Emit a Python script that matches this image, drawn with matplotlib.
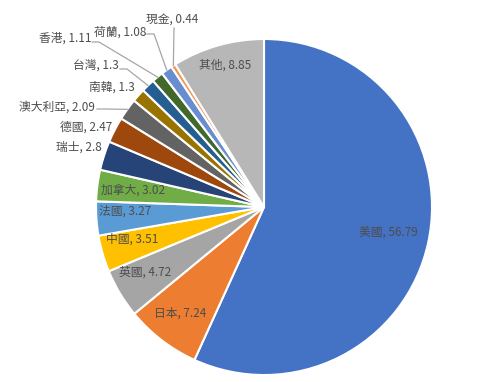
import matplotlib.pyplot as plt
import numpy as np

plt.rcParams['font.family'] = ['Noto Sans CJK TC', 'DejaVu Sans']

# data
countries = ["美國", "日本", "英國", "中國", "法國", "加拿大", "瑞士", "德國",
             "澳大利亞", "南韓", "台灣", "香港", "荷蘭", "現金", "其他"]
weights = [56.79, 7.24, 4.72, 3.51, 3.27, 3.02, 2.8, 2.47,
           2.09, 1.3, 1.3, 1.11, 1.08, 0.44, 8.85]

colors = ["#4472C4", "#ED7D31", "#A5A5A5", "#FFC000", "#5B9BD5", "#70AD47",
          "#264478", "#9E480E", "#636363", "#997300", "#255E91", "#43682B",
          "#698ED0", "#F1975A", "#B7B7B7"]

W, H = 500, 382
# label centres in pixel coords (x from left, y from top)
label_pos = [(388, 232), (180, 313), (145, 272), (132, 239), (125, 211),
             (133, 190), (79, 147), (86, 127), (57, 107), (112, 87),
             (96, 66), (65, 38), (120, 32), (172, 20), (225, 65)]
# leader line start points (pixel coords) for labels outside the pie
leaders = {8: (97, 109), 10: (120, 69), 11: (92, 42), 12: (147, 34), 13: (174, 28)}

fig = plt.figure(figsize=(W / 100, H / 100), dpi=100)
ax = fig.add_axes([0, 0, 1, 1])

cx, cy, r = 264, H - 207, 168
wedges, _ = ax.pie(weights, colors=colors, startangle=90, counterclock=False,
                   center=(cx, cy), radius=r, frame=True,
                   wedgeprops=dict(edgecolor='white', linewidth=1.5))

for i, (name, val) in enumerate(zip(countries, weights)):
    x, y = label_pos[i]
    ax.text(x, H - y, f"{name}, {val:g}", ha='center', va='center',
            fontsize=8.5, color='#4d4d4d')
    if i in leaders:
        w = wedges[i]
        mid = np.deg2rad((w.theta1 + w.theta2) / 2)
        ex, ey = cx + r * np.cos(mid), cy + r * np.sin(mid)
        sx, sy = leaders[i]
        sy = H - sy
        if i == 13:
            xs, ys = [sx, ex], [sy, ey]
        else:
            xs, ys = [sx, sx + 7, ex], [sy, sy, ey]
        ax.plot(xs, ys, color='#A6A6A6', linewidth=0.9)

ax.set_xlim(0, W)
ax.set_ylim(0, H)
ax.set_aspect('equal')
ax.axis('off')

fig.savefig('out.png', dpi=100)
